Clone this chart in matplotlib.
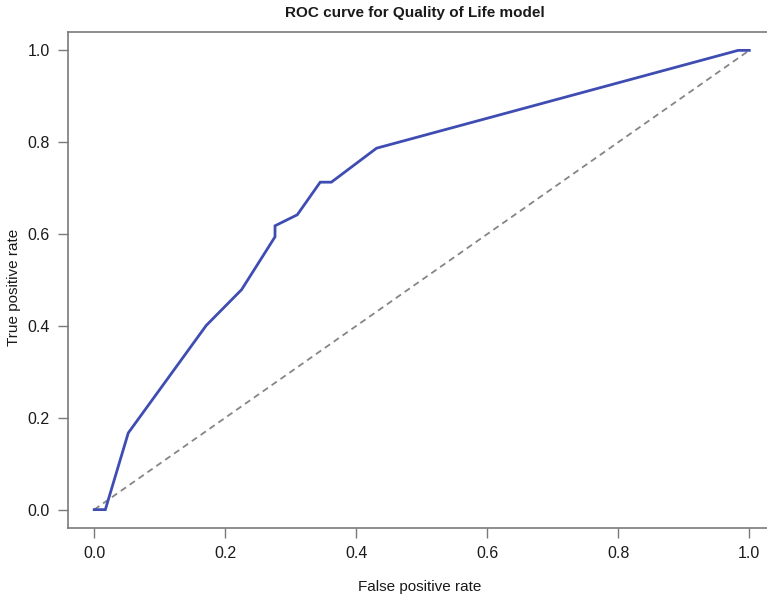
import matplotlib
matplotlib.use('Agg')
from matplotlib import pyplot as plt

# ROC curve points
fpr = [0.0, 0.017, 0.052, 0.171, 0.225, 0.276, 0.276, 0.310, 0.345, 0.362, 0.431, 0.983, 1.0]
tpr = [0.0, 0.0, 0.167, 0.401, 0.479, 0.594, 0.618, 0.642, 0.713, 0.713, 0.787, 1.0, 1.0]

# chance line
ref_x = [0.0, 1.0]
ref_y = [0.0, 1.0]

ticks = [0.0, 0.2, 0.4, 0.6, 0.8, 1.0]
tick_labels = ['0.0', '0.2', '0.4', '0.6', '0.8', '1.0']

plt.rcParams['font.family'] = ['Liberation Sans', 'DejaVu Sans']

fig = plt.figure(figsize=(7.67, 5.96), dpi=100)
# axes runs a bit past the right edge, as in the cropped original
ax = fig.add_axes([68 / 767, 1 - 528 / 596, (775.5 - 68) / 767, (528 - 32) / 596])

ax.plot(ref_x, ref_y, color='#858585', linestyle=(0, (3.5, 2.5)), linewidth=1.3)
ax.plot(fpr, tpr, color='#3F4DB3', linewidth=2.0, solid_joinstyle='miter')

ax.set_xlim(-0.04, 1.04)
ax.set_ylim(-0.04, 1.04)
ax.set_xticks(ticks)
ax.set_xticklabels(tick_labels)
ax.set_yticks(ticks)
ax.set_yticklabels(tick_labels)

for s in ax.spines.values():
    s.set_color('#7a7a7a')
    s.set_linewidth(1.2)

ax.tick_params(axis='both', direction='out', length=7, width=1.0, color='#7a7a7a',
               labelsize=11.5, labelcolor='#1a1a1a', pad=6)

ax.set_title('ROC curve for Quality of Life model', fontsize=11, fontweight='bold',
             color='#1a1a1a', pad=11, x=(415 - 68) / (775.5 - 68))
ax.set_xlabel('False positive rate', fontsize=11, color='#1a1a1a')
ax.xaxis.set_label_coords((420 - 68) / (775.5 - 68), -0.105)
ax.set_ylabel('True positive rate', fontsize=11, color='#1a1a1a')
ax.yaxis.set_label_coords((21 - 68) / (775.5 - 68), (528 - 287) / 496)

fig.savefig('out.png', dpi=100)
